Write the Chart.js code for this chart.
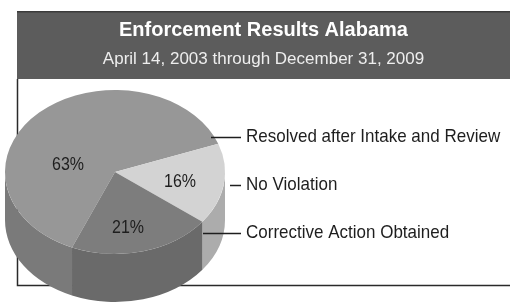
<!DOCTYPE html>
<html>
<head>
<meta charset="utf-8">
<script src="https://cdn.jsdelivr.net/npm/chart.js@4/dist/chart.umd.min.js"></script>
<style>
  html, body { margin: 0; padding: 0; background: #fff; }
  #wrap { width: 510px; height: 303px; }
</style>
</head>
<body>
<div id="wrap"><canvas id="pieChart" width="510" height="303"></canvas></div>
<script>
// data
const categories = ['Resolved after Intake and Review', 'No Violation', 'Corrective Action Obtained'];
const shares = [63, 16, 21];
const topColors = ['#979797', '#d3d3d3', '#7d7d7d'];
const sideColors = ['#7a7a7a', '#acacac', '#6a6a6a'];

// pie geometry on the page
const CX = 115, CY = 172, RX = 110, RY = 82, DEPTH = 48;
const TWO_PI = Math.PI * 2;
const FONT = '"Liberation Sans", Arial, sans-serif';

// slices that face the viewer (angles between 0 and PI)
function frontParts(s, e) {
  const parts = [];
  for (let k = -2; k <= 2; k++) {
    const a = Math.max(s, k * TWO_PI), b = Math.min(e, k * TWO_PI + Math.PI);
    if (b > a) parts.push([a - k * TWO_PI, b - k * TWO_PI]);
  }
  return parts;
}

// text a bit taller than wide, like the original artwork
function tallText(ctx, txt, x, y, stretch) {
  ctx.save();
  ctx.translate(x, y);
  ctx.scale(1, stretch);
  ctx.fillText(txt, 0, 0);
  ctx.restore();
}

const framePlugin = {
  id: 'frame',
  beforeDraw(chart) {
    const ctx = chart.ctx;
    ctx.save();
    ctx.fillStyle = '#5c5c5c';
    ctx.fillRect(17, 11, 493, 68);
    ctx.fillStyle = '#3a3a3a';
    ctx.fillRect(17, 11, 493, 1.5);
    ctx.strokeStyle = '#2a2a2a';
    ctx.lineWidth = 1.5;
    ctx.beginPath();
    ctx.moveTo(17.5, 79);
    ctx.lineTo(17.5, 285.5);
    ctx.lineTo(510, 285.5);
    ctx.stroke();
    ctx.restore();
  }
};

const pie3d = {
  id: 'pie3d',
  beforeDatasetsDraw(chart) {
    const ctx = chart.ctx;
    const arcs = chart.getDatasetMeta(0).data;
    ctx.save();
    arcs.forEach((arc, i) => {
      frontParts(arc.startAngle, arc.endAngle).forEach(([a, b]) => {
        ctx.beginPath();
        ctx.ellipse(CX, CY, RX, RY, 0, a, b);
        ctx.ellipse(CX, CY + DEPTH, RX, RY, 0, b, a, true);
        ctx.closePath();
        ctx.fillStyle = sideColors[i];
        ctx.fill();
      });
    });
    const a0 = arcs[0];
    const r = a0.outerRadius;
    ctx.translate(CX, CY);
    ctx.scale(RX / r, RY / r);
    ctx.translate(-a0.x, -a0.y);
  },
  afterDatasetsDraw(chart) {
    const ctx = chart.ctx;
    ctx.restore();
    // percent labels
    const spots = [[68, 165], [180, 182], [128, 228]];
    ctx.save();
    ctx.fillStyle = '#1e1e1e';
    ctx.font = '16px ' + FONT;
    ctx.textAlign = 'center';
    ctx.textBaseline = 'middle';
    shares.forEach((v, i) => tallText(ctx, v + '%', spots[i][0], spots[i][1], 1.15));
    ctx.restore();
  },
  afterDraw(chart) {
    const ctx = chart.ctx;
    const leaders = [[211, 137], [230, 185], [203, 233]];
    ctx.save();
    ctx.strokeStyle = '#1e1e1e';
    ctx.fillStyle = '#1e1e1e';
    ctx.lineWidth = 1.5;
    ctx.font = '17px ' + FONT;
    ctx.textBaseline = 'middle';
    categories.forEach((c, i) => {
      const [x, y] = leaders[i];
      ctx.beginPath();
      ctx.moveTo(x, y + 0.5);
      ctx.lineTo(241, y + 0.5);
      ctx.stroke();
      tallText(ctx, c, 246, y, 1.12);
    });
    ctx.restore();
  }
};

new Chart(document.getElementById('pieChart'), {
  type: 'pie',
  data: {
    labels: categories,
    datasets: [{
      data: shares,
      backgroundColor: topColors,
      borderWidth: 0,
      clip: false
    }]
  },
  options: {
    responsive: false,
    animation: false,
    rotation: 203,
    layout: { padding: { top: 11, left: 17 } },
    plugins: {
      legend: { display: false },
      tooltip: { enabled: false },
      title: {
        display: true,
        text: 'Enforcement Results Alabama',
        color: '#ffffff',
        font: { family: FONT, size: 20, weight: 'bold' },
        padding: { top: 7, bottom: 0 }
      },
      subtitle: {
        display: true,
        text: 'April 14, 2003 through December 31, 2009',
        color: '#eeeeee',
        font: { family: FONT, size: 17 },
        padding: { top: 7, bottom: 10 }
      }
    }
  },
  plugins: [framePlugin, pie3d]
});
</script>
</body>
</html>
